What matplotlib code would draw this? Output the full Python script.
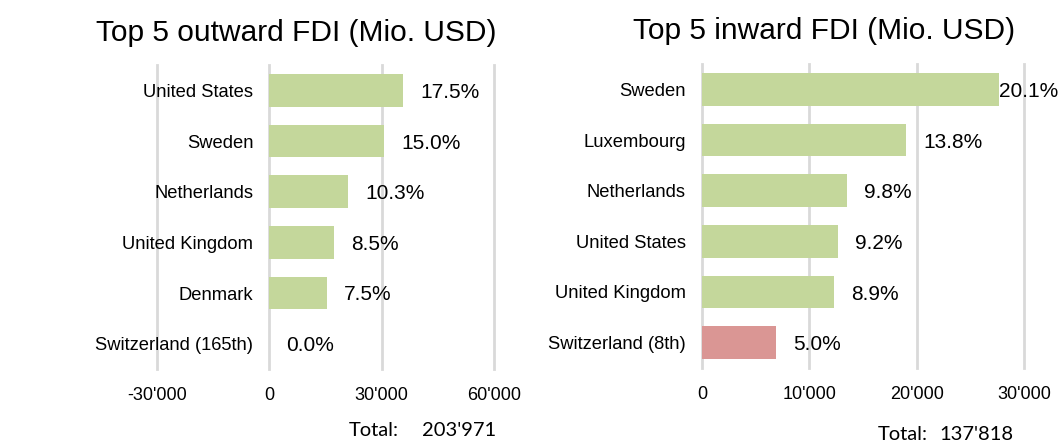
import matplotlib
matplotlib.use("Agg")
import matplotlib.pyplot as plt
from matplotlib.ticker import FuncFormatter

# ---- data ----
out_countries = ["United States", "Sweden", "Netherlands", "United Kingdom", "Denmark", "Switzerland (165th)"]
out_values = [35695, 30596, 21009, 17338, 15298, 0]
out_labels = ["17.5%", "15.0%", "10.3%", "8.5%", "7.5%", "0.0%"]
out_total = "203'971"
out_ticks = [-30000, 0, 30000, 60000]

in_countries = ["Sweden", "Luxembourg", "Netherlands", "United States", "United Kingdom", "Switzerland (8th)"]
in_values = [27701, 19019, 13506, 12679, 12266, 6891]
in_labels = ["20.1%", "13.8%", "9.8%", "9.2%", "8.9%", "5.0%"]
in_total = "137'818"
in_ticks = [0, 10000, 20000, 30000]

GREEN = "#C4D79B"
PINK = "#DA9694"
GRID = "#D9D9D9"
FONT = "Liberation Sans"

W, H = 1062, 443
fig = plt.figure(figsize=(W / 100, H / 100), dpi=100)


def fmt(v, _pos=None):
    s = f"{int(round(v)):,}".replace(",", "'")
    return s


def make(ax_px, countries, values, labels, ticks, highlight):
    x0, x1, ytop, ybot = ax_px
    ax = fig.add_axes([x0 / W, 1 - ybot / H, (x1 - x0) / W, (ybot - ytop) / H])
    n = len(countries)
    ypos = list(range(n))
    colors = [PINK if (highlight and c.startswith("Switzerland")) else GREEN for c in countries]
    ax.barh(ypos, values, height=0.65, color=colors, zorder=2)
    ax.set_ylim(n - 0.5, -0.5)
    ax.set_xlim(ticks[0], ticks[-1])
    ax.set_xticks(ticks)
    ax.xaxis.set_major_formatter(FuncFormatter(fmt))
    ax.set_yticks([])
    ax.tick_params(axis="x", length=0, pad=13, labelsize=13, labelfontfamily=FONT)
    ax.grid(axis="x", color=GRID, linewidth=2, zorder=0)
    for gl in ax.xaxis.get_gridlines():
        gl.set_clip_on(False)
    for sp in ax.spines.values():
        sp.set_visible(False)
    ax.set_facecolor("none")
    span = ticks[-1] - ticks[0]
    for i, (c, v, l) in enumerate(zip(countries, values, labels)):
        ax.annotate(c, xy=(0, i), xytext=(-16, -2), textcoords="offset pixels",
                    ha="right", va="center", fontsize=13.2, family=FONT, color="#000000")
        off = 0 if v > ticks[-1] - 0.1 * span else 17
        ax.annotate(l, xy=(v, i), xytext=(off, -2), textcoords="offset pixels",
                    ha="left", va="center", fontsize=15, family=FONT, color="#000000",
                    annotation_clip=False)
    return ax


make((157, 494, 65, 369), out_countries, out_values, out_labels, out_ticks, False)
make((702, 1024, 64, 368), in_countries, in_values, in_labels, in_ticks, True)

fig.text(296 / W, 1 - 33 / H, "Top 5 outward FDI (Mio. USD)", ha="center", va="center",
         fontsize=21.5, family=FONT)
fig.text(824 / W, 1 - 31 / H, "Top 5 inward FDI (Mio. USD)", ha="center", va="center",
         fontsize=21.5, family=FONT)

fig.text(349 / W, 1 - 430 / H, "Total:", ha="left", va="center", fontsize=14.5, family="Lato")
fig.text(496 / W, 1 - 430 / H, out_total, ha="right", va="center", fontsize=14.5, family="Lato")
fig.text(878 / W, 1 - 435 / H, "Total:", ha="left", va="center", fontsize=14.5, family="Lato")
fig.text(1013 / W, 1 - 435 / H, in_total, ha="right", va="center", fontsize=14.5, family="Lato")

fig.savefig("out.png", dpi=100, facecolor="white")
